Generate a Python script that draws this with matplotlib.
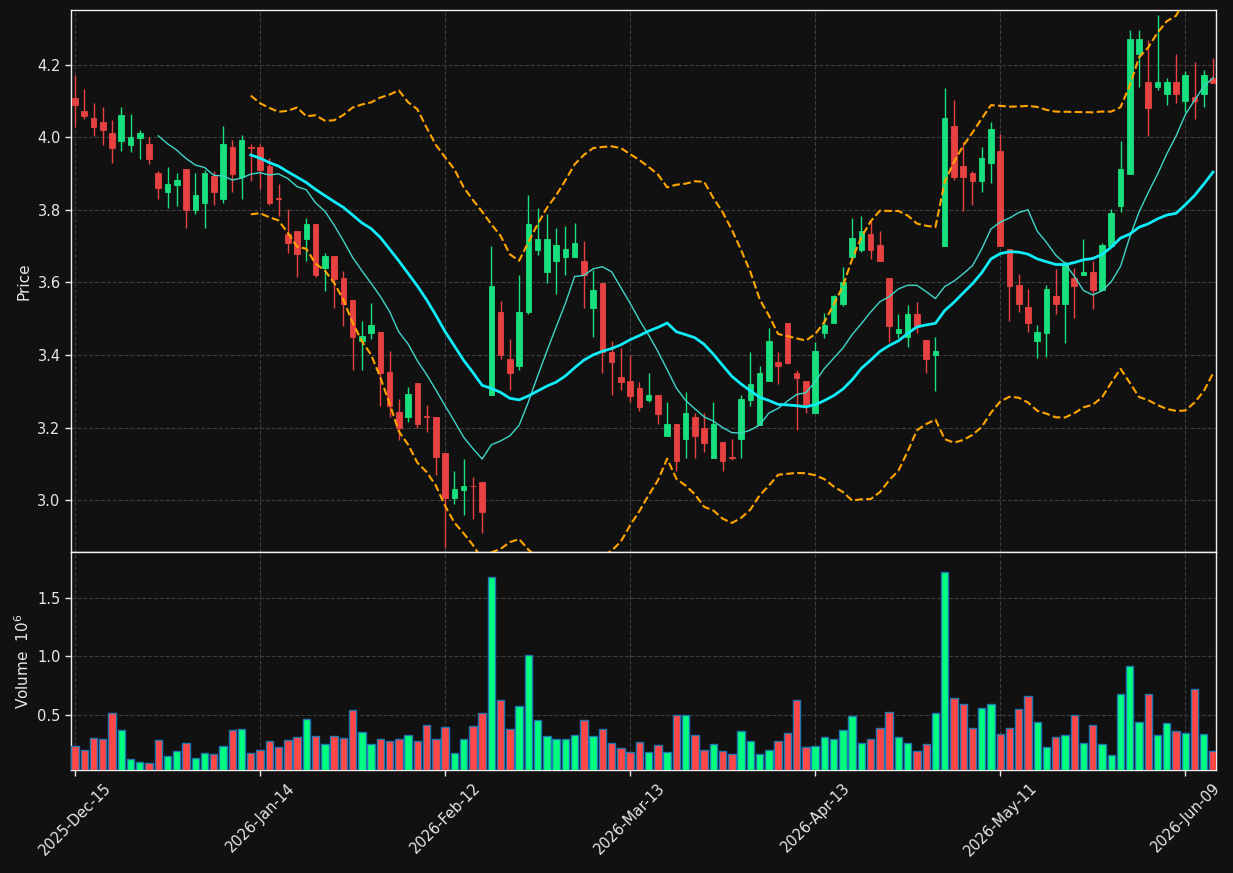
import matplotlib
matplotlib.use('Agg')
import matplotlib.pyplot as plt
from matplotlib.ticker import MultipleLocator
import numpy as np
import pandas as pd

# ---------------- data ----------------
opens = [4.109, 4.072, 4.052, 4.041, 4.011, 3.989, 3.978, 3.998, 3.981, 3.901,
         3.849, 3.868, 3.912, 3.799, 3.818, 3.893, 3.829, 3.972, 3.891, 3.973,
         3.972, 3.921, 3.833, 3.733, 3.742, 3.721, 3.761, 3.640, 3.673, 3.612,
         3.551, 3.439, 3.460, 3.463, 3.353, 3.243, 3.230, 3.323, 3.232, 3.231,
         3.131, 3.008, 3.030, 3.041, 3.051, 3.289, 3.520, 3.390, 3.369, 3.518,
         3.689, 3.628, 3.658, 3.669, 3.669, 3.660, 3.529, 3.599, 3.409, 3.340,
         3.329, 3.309, 3.277, 3.291, 3.178, 3.211, 3.168, 3.230, 3.200, 3.118,
         3.161, 3.120, 3.168, 3.277, 3.208, 3.328, 3.382, 3.488, 3.351, 3.330,
         3.241, 3.460, 3.488, 3.540, 3.670, 3.689, 3.733, 3.703, 3.612, 3.460,
         3.449, 3.513, 3.441, 3.400, 3.701, 4.031, 3.921, 3.902, 3.880, 3.929,
         3.961, 3.692, 3.593, 3.532, 3.439, 3.461, 3.562, 3.541, 3.611, 3.621,
         3.630, 3.580, 3.701, 3.811, 3.899, 4.229, 4.151, 4.139, 4.119, 4.151,
         4.100, 4.110, 4.119, 4.162]
highs = [4.171, 4.132, 4.095, 4.082, 4.046, 4.082, 4.065, 4.021, 4.000, 3.906,
         3.917, 3.900, 3.912, 3.901, 3.910, 3.906, 4.030, 3.992, 4.006, 3.981,
         3.982, 3.942, 3.870, 3.801, 3.742, 3.777, 3.761, 3.681, 3.673, 3.631,
         3.551, 3.495, 3.543, 3.463, 3.410, 3.280, 3.311, 3.323, 3.262, 3.231,
         3.131, 3.081, 3.113, 3.064, 3.051, 3.701, 3.549, 3.444, 3.621, 3.840,
         3.806, 3.789, 3.750, 3.756, 3.764, 3.715, 3.634, 3.599, 3.438, 3.419,
         3.399, 3.326, 3.351, 3.291, 3.271, 3.211, 3.298, 3.240, 3.240, 3.271,
         3.161, 3.169, 3.291, 3.408, 3.370, 3.475, 3.408, 3.488, 3.359, 3.330,
         3.435, 3.515, 3.565, 3.642, 3.778, 3.783, 3.769, 3.742, 3.612, 3.512,
         3.537, 3.546, 3.441, 3.451, 4.135, 4.102, 3.987, 3.907, 3.973, 4.042,
         4.010, 3.692, 3.622, 3.581, 3.482, 3.592, 3.636, 3.660, 3.641, 3.721,
         3.660, 3.710, 3.802, 3.990, 4.295, 4.295, 4.268, 4.336, 4.163, 4.230,
         4.183, 4.206, 4.186, 4.219]
lows = [4.029, 4.051, 4.004, 3.979, 3.930, 3.961, 3.960, 3.939, 3.925, 3.831,
        3.806, 3.811, 3.750, 3.789, 3.750, 3.814, 3.820, 3.850, 3.830, 3.880,
        3.857, 3.813, 3.782, 3.680, 3.616, 3.660, 3.616, 3.577, 3.531, 3.481,
        3.360, 3.360, 3.445, 3.260, 3.231, 3.165, 3.216, 3.200, 3.187, 3.070,
        2.868, 2.989, 2.960, 2.948, 2.909, 3.289, 3.389, 3.303, 3.358, 3.512,
        3.676, 3.599, 3.568, 3.620, 3.669, 3.529, 3.450, 3.352, 3.290, 3.303,
        3.272, 3.245, 3.271, 3.210, 3.178, 3.081, 3.118, 3.118, 3.134, 3.118,
        3.081, 3.110, 3.118, 3.260, 3.208, 3.328, 3.320, 3.375, 3.194, 3.240,
        3.241, 3.446, 3.488, 3.536, 3.670, 3.684, 3.665, 3.659, 3.435, 3.446,
        3.421, 3.460, 3.352, 3.300, 3.701, 3.882, 3.796, 3.812, 3.849, 3.874,
        3.701, 3.494, 3.520, 3.464, 3.391, 3.396, 3.512, 3.432, 3.501, 3.621,
        3.527, 3.580, 3.701, 3.795, 3.899, 4.139, 4.004, 4.130, 4.089, 4.094,
        4.068, 4.051, 4.084, 4.150]
closes = [4.089, 4.058, 4.028, 4.020, 3.971, 4.061, 4.000, 4.011, 3.939, 3.860,
          3.871, 3.882, 3.799, 3.840, 3.901, 3.849, 3.981, 3.898, 3.992, 3.971,
          3.909, 3.819, 3.831, 3.710, 3.679, 3.761, 3.620, 3.673, 3.609, 3.541,
          3.450, 3.452, 3.483, 3.350, 3.260, 3.199, 3.292, 3.210, 3.230, 3.120,
          3.008, 3.032, 3.040, 3.039, 2.969, 3.591, 3.399, 3.350, 3.520, 3.760,
          3.721, 3.721, 3.702, 3.691, 3.710, 3.620, 3.580, 3.409, 3.380, 3.327,
          3.288, 3.258, 3.291, 3.239, 3.211, 3.109, 3.241, 3.178, 3.158, 3.211,
          3.109, 3.118, 3.280, 3.321, 3.351, 3.440, 3.369, 3.378, 3.338, 3.262,
          3.411, 3.483, 3.563, 3.601, 3.722, 3.742, 3.689, 3.659, 3.480, 3.472,
          3.513, 3.480, 3.389, 3.411, 4.053, 3.891, 3.891, 3.880, 3.943, 4.023,
          3.701, 3.591, 3.540, 3.489, 3.463, 3.582, 3.541, 3.650, 3.591, 3.630,
          3.580, 3.703, 3.791, 3.912, 4.270, 4.270, 4.081, 4.151, 4.151, 4.119,
          4.171, 4.100, 4.171, 4.150]
volumes = [0.233, 0.198, 0.302, 0.293, 0.517, 0.371, 0.121, 0.095, 0.086, 0.284,
           0.147, 0.190, 0.261, 0.129, 0.172, 0.164, 0.233, 0.371, 0.379, 0.172,
           0.198, 0.276, 0.224, 0.284, 0.310, 0.466, 0.319, 0.250, 0.319, 0.302,
           0.543, 0.353, 0.250, 0.293, 0.276, 0.293, 0.328, 0.276, 0.414, 0.293,
           0.397, 0.172, 0.293, 0.405, 0.517, 1.681, 0.629, 0.379, 0.578, 1.009,
           0.457, 0.319, 0.293, 0.293, 0.328, 0.457, 0.319, 0.379, 0.259, 0.216,
           0.181, 0.267, 0.181, 0.241, 0.181, 0.500, 0.500, 0.328, 0.198, 0.250,
           0.190, 0.164, 0.362, 0.276, 0.164, 0.198, 0.276, 0.345, 0.629, 0.224,
           0.233, 0.310, 0.293, 0.371, 0.491, 0.259, 0.293, 0.388, 0.526, 0.310,
           0.259, 0.190, 0.250, 0.517, 1.724, 0.647, 0.595, 0.388, 0.560, 0.595,
           0.336, 0.388, 0.552, 0.664, 0.440, 0.224, 0.310, 0.328, 0.500, 0.259,
           0.414, 0.250, 0.155, 0.681, 0.914, 0.440, 0.681, 0.328, 0.431, 0.362,
           0.345, 0.724, 0.336, 0.190]
tick_labels = ["2025-Dec-15", "2026-Jan-14", "2026-Feb-12", "2026-Mar-13",
               "2026-Apr-13", "2026-May-11", "2026-Jun-09"]

# ---------------- styling ----------------
BG = '#111111'
TXT = '#e8e8e8'
GRID = '#3c3c3c'
UP_C, DN_C = '#18e07e', '#e84142'
UP_V, DN_V = '#00ff80', '#ff4747'

o = np.array(opens); h = np.array(highs); l = np.array(lows); c = np.array(closes)
v = np.array(volumes)
n = len(c)
x = np.arange(n)

fig = plt.figure(figsize=(12.33, 8.73), dpi=100, facecolor=BG)
ax = fig.add_axes([0.0576, 0.3677, 0.9286, 0.6208], facecolor=BG)
axv = fig.add_axes([0.0576, 0.1180, 0.9286, 0.2497], facecolor=BG, sharex=ax)

up = c >= o
ccols = np.where(up, UP_C, DN_C)
vcols = np.where(up, UP_V, DN_V)

ax.vlines(x, l, h, colors=ccols, linewidth=1.0, zorder=2)
ax.bar(x, c - o, bottom=o, width=0.6, color=ccols, edgecolor=ccols,
       linewidth=0.6, zorder=3)

s = pd.Series(c)
ma10 = s.rolling(10).mean()
ma20 = s.rolling(20).mean()
sd20 = s.rolling(20).std(ddof=0)
ax.plot(x, ma10, color='#3fd6c8', linewidth=1.0, zorder=4)
ax.plot(x, ma20, color='#10ecf8', linewidth=2.0, zorder=4)
ax.plot(x, ma20 + 2 * sd20, color='#ffa500', linewidth=1.5, linestyle='--', zorder=4)
ax.plot(x, ma20 - 2 * sd20, color='#ffa500', linewidth=1.5, linestyle='--', zorder=4)

axv.bar(x, v, width=0.8, color=vcols, edgecolor='#1f77b4', linewidth=1.0, zorder=3)

ax.set_xlim(-0.43, n - 0.68)
ax.set_ylim(2.858, 4.350)
axv.set_ylim(0.3 * v.min(), 1.1 * v.max())

ax.yaxis.set_major_locator(MultipleLocator(0.2))
axv.yaxis.set_major_locator(MultipleLocator(0.5))
axv.set_xticks(range(0, n, 20)[:len(tick_labels)])
axv.set_xticklabels(tick_labels, rotation=45, ha='center')

for a in (ax, axv):
    a.grid(True, color=GRID, linestyle='--', linewidth=0.8, zorder=0)
    a.set_axisbelow(True)
    for sp in a.spines.values():
        sp.set_color('#f0f0f0')
        sp.set_linewidth(1.0)
    a.tick_params(colors=TXT, labelsize=10.5, length=4, width=1)

ax.tick_params(axis='x', labelbottom=False, length=0)
ax.yaxis.set_major_formatter(matplotlib.ticker.FormatStrFormatter('%.1f'))
axv.yaxis.set_major_formatter(matplotlib.ticker.FormatStrFormatter('%.1f'))

ax.set_ylabel('Price', color=TXT, fontsize=11)
axv.set_ylabel('Volume  $10^{6}$', color=TXT, fontsize=11)

fig.savefig('out.png', dpi=100, facecolor=BG)
